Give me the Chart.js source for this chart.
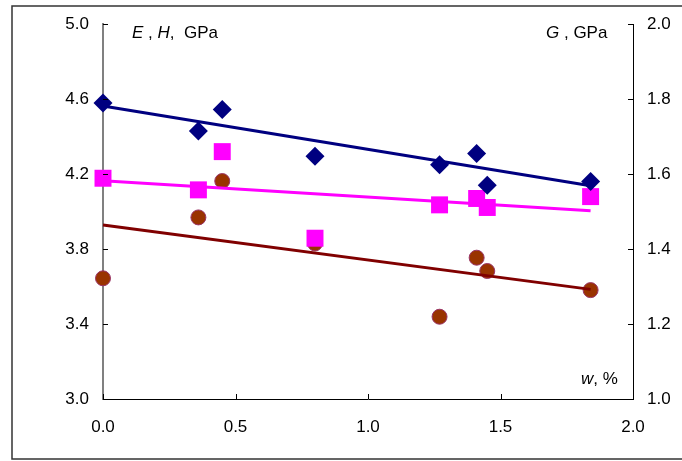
<!DOCTYPE html>
<html>
<head>
<meta charset="utf-8">
<script src="https://cdn.jsdelivr.net/npm/chart.js@4.4.1/dist/chart.umd.min.js"></script>
<style>
    body { margin: 0; background: #fff; }
    canvas { display: block; }
</style>
</head>
<body>
<canvas id="chart" width="682" height="461"></canvas>
<script>
// moisture content w, %
const wValues = [0, 0.36, 0.45, 0.80, 1.27, 1.41, 1.45, 1.84];
// E, GPa (diamonds, left axis)
const eValues = [4.58, 4.43, 4.545, 4.295, 4.25, 4.31, 4.14, 4.16];
// G, GPa (squares, right axis)
const gValues = [1.589, 1.558, 1.660, 1.429, 1.518, 1.535, 1.511, 1.540];
// H, GPa (circles, left axis)
const hValues = [3.644, 3.969, 4.163, 3.83, 3.439, 3.754, 3.683, 3.581];

// trend lines, read at both ends
const trendW = [0, 1.84];
const eTrend = [4.563, 4.138];
const gTrend = [1.582, 1.502];
const hTrend = [3.928, 3.585];

const xTicks = [0, 0.5, 1.0, 1.5, 2.0];
const leftTicks = [3.0, 3.4, 3.8, 4.2, 4.6, 5.0];
const rightTicks = [1.0, 1.2, 1.4, 1.6, 1.8, 2.0];

const FONT = 'Liberation Sans, Arial, sans-serif';

function toPoints(xs, ys) {
    return xs.map((x, i) => ({ x: x, y: ys[i] }));
}

// small ticks pointing into the plot, plus frame and axis captions
const decorations = {
    id: 'decorations',
    afterDraw(chart) {
        const ctx = chart.ctx;
        const area = chart.chartArea;
        const sx = chart.scales.x, sy = chart.scales.y, sy2 = chart.scales.y2;
        ctx.save();
        ctx.lineWidth = 1;
        ctx.strokeStyle = '#000';
        ctx.beginPath();
        leftTicks.forEach(v => {
            const py = Math.round(sy.getPixelForValue(v)) + 0.5;
            ctx.moveTo(area.left, py);
            ctx.lineTo(area.left + 5, py);
        });
        rightTicks.forEach(v => {
            const py = Math.round(sy2.getPixelForValue(v)) + 0.5;
            ctx.moveTo(area.right - 5, py);
            ctx.lineTo(area.right, py);
        });
        xTicks.forEach(v => {
            const px = Math.round(sx.getPixelForValue(v)) + 0.5;
            ctx.moveTo(px, area.bottom);
            ctx.lineTo(px, area.bottom - 5);
        });
        ctx.stroke();

        // outer frame (right side runs off the picture)
        ctx.strokeStyle = '#333';
        ctx.lineWidth = 1.5;
        ctx.strokeRect(12, 6, 700, 453);

        ctx.fillStyle = '#000';
        ctx.textBaseline = 'alphabetic';
        drawParts(ctx, area.left + 29, 38, [['E', true], [' , ', false], ['H', true], [',  GPa', false]]);
        drawParts(ctx, area.left + 443, 38, [['G', true], [' , GPa', false]]);
        drawParts(ctx, area.left + 478, 384, [['w', true], [', %', false]]);
        ctx.restore();
    }
};

function drawParts(ctx, x, y, parts) {
    parts.forEach(p => {
        ctx.font = (p[1] ? 'italic ' : '') + '17px ' + FONT;
        ctx.fillText(p[0], x, y);
        x += ctx.measureText(p[0]).width;
    });
}

const tickFont = { family: FONT, size: 17 };
const fmt = v => Number(v).toFixed(1);

new Chart(document.getElementById('chart'), {
    type: 'scatter',
    data: {
        datasets: [{
            label: 'E trend',
            data: toPoints(trendW, eTrend),
            showLine: true,
            borderColor: '#000080',
            borderWidth: 3,
            pointRadius: 0,
            yAxisID: 'y',
            order: 1
        }, {
            label: 'E',
            data: toPoints(wValues, eValues),
            pointStyle: 'rectRot',
            pointRadius: 9.5,
            backgroundColor: '#000080',
            borderWidth: 0,
            yAxisID: 'y',
            order: 2
        }, {
            label: 'G trend',
            data: toPoints(trendW, gTrend),
            showLine: true,
            borderColor: '#ff00ff',
            borderWidth: 3,
            pointRadius: 0,
            yAxisID: 'y2',
            order: 3
        }, {
            label: 'G',
            data: toPoints(wValues, gValues),
            pointStyle: 'rect',
            pointRadius: 12,
            backgroundColor: '#ff00ff',
            borderWidth: 0,
            yAxisID: 'y2',
            order: 4
        }, {
            label: 'H trend',
            data: toPoints(trendW, hTrend),
            showLine: true,
            borderColor: '#800000',
            borderWidth: 3,
            pointRadius: 0,
            yAxisID: 'y',
            order: 5
        }, {
            label: 'H',
            data: toPoints(wValues, hValues),
            pointStyle: 'circle',
            pointRadius: 7.5,
            backgroundColor: '#993300',
            borderColor: '#993366',
            borderWidth: 1,
            yAxisID: 'y',
            order: 6
        }].map(d => Object.assign(d, { clip: false }))
    },
    options: {
        responsive: false,
        animation: false,
        layout: { padding: { top: 24, left: 0, right: 0, bottom: 0 } },
        plugins: { legend: { display: false }, tooltip: { enabled: false } },
        scales: {
            x: {
                type: 'linear',
                min: 0, max: 2,
                afterBuildTicks: s => { s.ticks = xTicks.map(v => ({ value: v })); },
                ticks: { callback: fmt, font: tickFont, color: '#000', padding: 18, maxRotation: 0 },
                grid: { display: false, drawTicks: false },
                border: { color: '#000', width: 1 },
                afterFit: s => { s.height = 62; }
            },
            y: {
                position: 'left',
                min: 3, max: 5,
                afterBuildTicks: s => { s.ticks = leftTicks.map(v => ({ value: v })); },
                ticks: { callback: fmt, font: tickFont, color: '#000', padding: 14 },
                grid: { display: false, drawTicks: false },
                border: { color: '#808080', width: 2 },
                afterFit: s => { s.width = 103; }
            },
            y2: {
                position: 'right',
                min: 1, max: 2,
                afterBuildTicks: s => { s.ticks = rightTicks.map(v => ({ value: v })); },
                ticks: { callback: fmt, font: tickFont, color: '#000', padding: 14 },
                grid: { display: false, drawTicks: false },
                border: { color: '#000', width: 1 },
                afterFit: s => { s.width = 49; }
            }
        }
    },
    plugins: [decorations]
});
</script>
</body>
</html>
